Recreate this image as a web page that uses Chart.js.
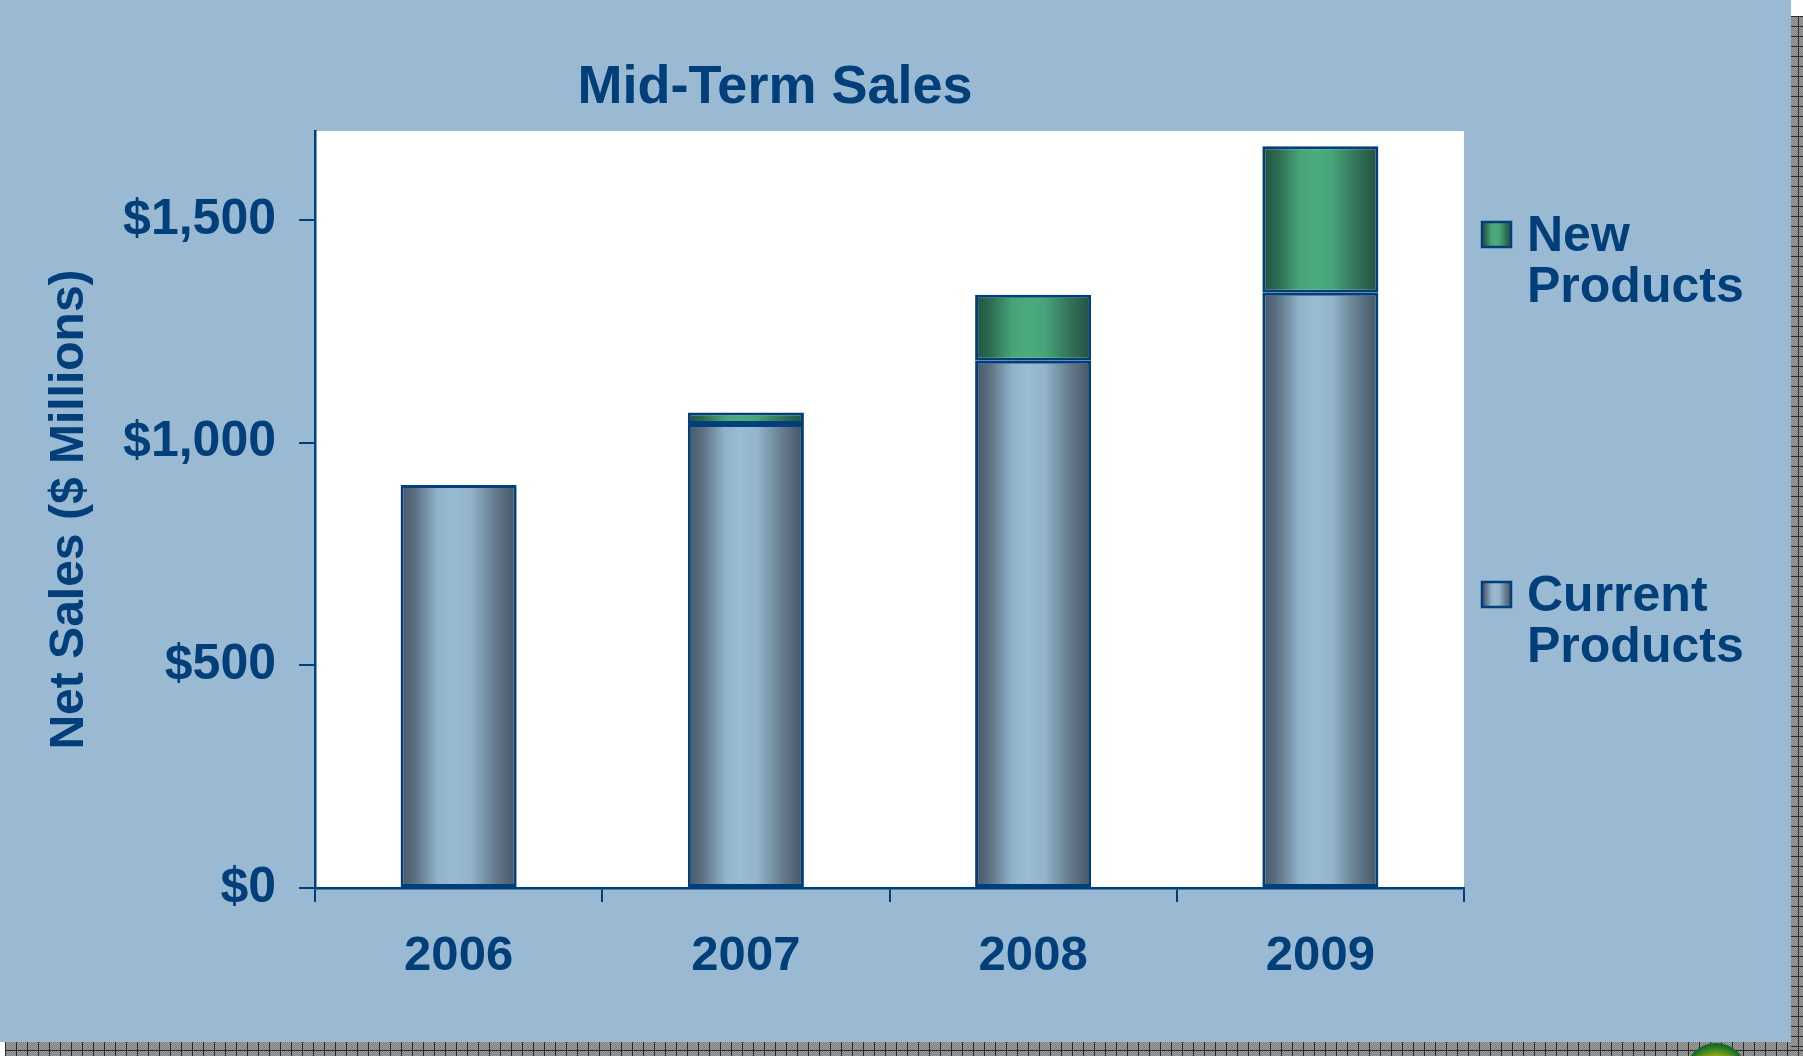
<!DOCTYPE html>
<html>
<head>
<meta charset="utf-8">
<script src="https://cdn.jsdelivr.net/npm/chart.js@4.4.1/dist/chart.umd.min.js"></script>
<style>
  body { margin: 0; background: #fff; width: 1803px; height: 1056px; position: relative; overflow: hidden; }
  #wrap { position: absolute; left: 0; top: 0; width: 1791px; height: 1042px; background: #99bad2; }
  .strip {
    position: absolute;
    background-color: #8e8e8e;
    background-image:
      repeating-conic-gradient(#a3a3a3 0 25%, #7a7a7a 0 50%);
    background-size: 2px 2px;
  }
  #rightStrip { left: 1791px; top: 16px; width: 12px; height: 1040px; }
  #bottomStrip { left: 5px; top: 1042px; width: 1798px; height: 14px; }
  .lines { position: absolute; }
  #rightLines { left: 1791px; top: 16px; width: 12px; height: 1040px;
    background-image: repeating-linear-gradient(180deg, #2a2a2a 0 1px, transparent 1px 10px),
      linear-gradient(90deg, transparent 7px, #2a2a2a 7px 8px, transparent 8px); }
  #bottomLines { left: 5px; top: 1042px; width: 1798px; height: 14px;
    background-image: repeating-linear-gradient(90deg, #2a2a2a 0 1px, transparent 1px 11px),
      linear-gradient(180deg, transparent 8px, #2a2a2a 8px 9px, transparent 9px); }
  #blob { position: absolute; left: 1685px; top: 1043px; width: 62px; height: 62px; border-radius: 50%;
    background: radial-gradient(circle at 50% 55%, #c8b820 0 38%, #6f9a1c 52%, #126b2a 70%, #0d5a22 100%); }
</style>
</head>
<body>
<div id="wrap"><canvas id="chart" width="1791" height="1042"></canvas></div>
<div id="rightStrip" class="strip"></div>
<div id="bottomStrip" class="strip"></div>
<div id="rightLines" class="lines"></div>
<div id="bottomLines" class="lines"></div>
<div id="blob"></div>
<script>
const chartTitle = "Mid-Term Sales";
const yAxisTitle = "Net Sales ($ Millions)";
const years = ["2006", "2007", "2008", "2009"];
const currentProducts = [905, 1042, 1184, 1337];
const newProducts = [null, 26, 148, 329];
const yTicks = [0, 500, 1000, 1500];

const navy = "#003f7a";
const fontFamily = "'Liberation Sans', Arial, sans-serif";
const catPct = 0.404;

// light centre, dark edges, like the PowerPoint "cylinder" fill
const blueStops = [[0, "#455566"], [0.12, "#5b6f81"], [0.32, "#90b2ca"], [0.45, "#99bbd3"], [0.6, "#93b4cb"], [0.8, "#687f91"], [1, "#445464"]];
const greenStops = [[0, "#225140"], [0.12, "#2c684e"], [0.32, "#45a478"], [0.45, "#4bab7f"], [0.6, "#46a479"], [0.8, "#34765a"], [1, "#21503f"]];

function makeGradient(ctx, x0, x1, stops) {
  const g = ctx.createLinearGradient(x0, 0, x1, 0);
  stops.forEach(s => g.addColorStop(s[0], s[1]));
  return g;
}

function barFill(stops, fallback) {
  return function (context) {
    const chart = context.chart;
    const xs = chart.scales && chart.scales.x;
    if (!chart.chartArea || !xs || context.dataIndex === undefined) return fallback;
    const cx = xs.getPixelForValue(context.dataIndex);
    const half = xs.width / years.length * catPct / 2;
    return makeGradient(chart.ctx, cx - half, cx + half, stops);
  };
}

const decor = {
  id: "decor",
  beforeDraw(chart) {
    const a = chart.chartArea;
    const ctx = chart.ctx;
    ctx.save();
    ctx.fillStyle = "#ffffff";
    ctx.fillRect(a.left, a.top, a.right - a.left, a.bottom - a.top);
    ctx.restore();
  },
  afterDraw(chart) {
    const ctx = chart.ctx;
    ctx.save();
    ctx.fillStyle = navy;
    ctx.font = "bold 54px " + fontFamily;
    ctx.textAlign = "center";
    ctx.textBaseline = "alphabetic";
    ctx.fillText(chartTitle, 775, 103);

    // legend on the right, new products first
    const items = [
      { ds: chart.data.datasets[1], stops: greenStops, y: 235 },
      { ds: chart.data.datasets[0], stops: blueStops, y: 595 }
    ];
    ctx.font = "bold 50px " + fontFamily;
    ctx.textAlign = "left";
    ctx.textBaseline = "middle";
    items.forEach(it => {
      const bx = 1482, bw = 29, bh = 25, by = it.y - 13;
      ctx.fillStyle = makeGradient(ctx, bx, bx + bw, it.stops);
      ctx.fillRect(bx, by, bw, bh);
      ctx.strokeStyle = navy;
      ctx.lineWidth = 2.5;
      ctx.strokeRect(bx, by, bw, bh);
      ctx.fillStyle = navy;
      it.ds.label.split(" ").forEach((w, i) => ctx.fillText(w, 1527, it.y + 2 + i * 51));
    });
    ctx.restore();
  }
};

new Chart("chart", {
  type: "bar",
  data: {
    labels: years,
    datasets: [
      {
        label: "Current Products",
        data: currentProducts,
        backgroundColor: barFill(blueStops, "#7f9fb5"),
        borderColor: navy,
        borderWidth: 3,
        borderSkipped: false,
        categoryPercentage: catPct,
        barPercentage: 1
      },
      {
        label: "New Products",
        data: newProducts,
        backgroundColor: barFill(greenStops, "#3d8e68"),
        borderColor: navy,
        borderWidth: 3,
        borderSkipped: false,
        categoryPercentage: catPct,
        barPercentage: 1
      }
    ]
  },
  options: {
    responsive: false,
    animation: false,
    layout: { padding: { top: 131, right: 327, left: 0, bottom: 0 } },
    plugins: {
      legend: { display: false },
      title: { display: false },
      tooltip: { enabled: false }
    },
    scales: {
      x: {
        stacked: true,
        grid: { offset: true, drawOnChartArea: false, drawTicks: true, tickLength: 14, color: navy, lineWidth: 2 },
        border: { display: true, color: navy, width: 2.5 },
        ticks: { color: navy, font: { family: fontFamily, size: 49, weight: "bold" }, padding: 25, maxRotation: 0 },
        afterFit(scale) { scale.height = 154; }
      },
      y: {
        stacked: true,
        min: 0,
        max: 1700,
        grid: { drawOnChartArea: false, drawTicks: true, tickLength: 16, color: navy, lineWidth: 2 },
        border: { display: true, color: navy, width: 2.5 },
        afterBuildTicks(scale) { scale.ticks = yTicks.map(v => ({ value: v })); },
        ticks: {
          color: navy,
          font: { family: fontFamily, size: 50, weight: "bold" },
          padding: 23,
          callback: v => "$" + v.toLocaleString("en-US")
        },
        title: {
          display: true,
          text: yAxisTitle,
          color: navy,
          font: { family: fontFamily, size: 48, weight: "bold" },
          padding: { top: 41, bottom: 0 }
        },
        afterFit(scale) { scale.width = 315; }
      }
    }
  },
  plugins: [decor]
});
</script>
</body>
</html>
